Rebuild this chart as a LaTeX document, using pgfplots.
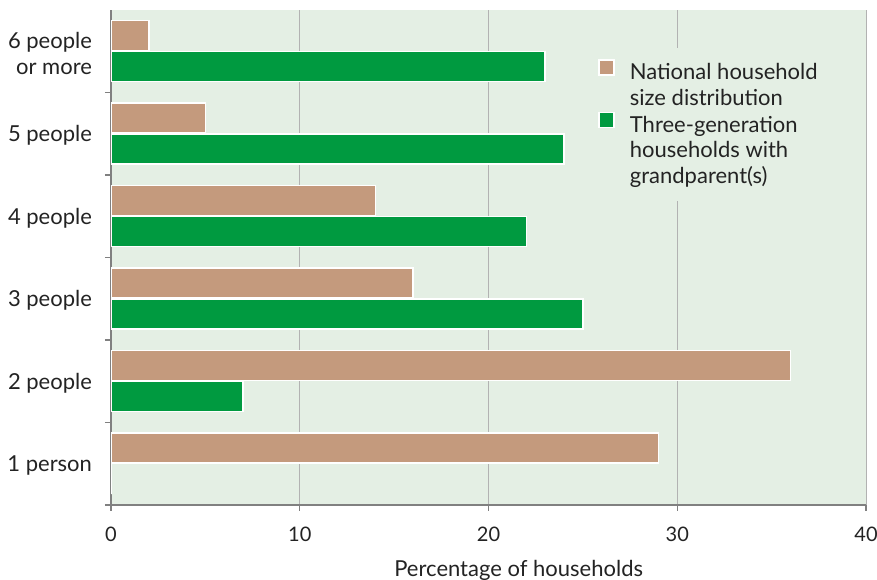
\documentclass[border=0pt]{standalone}
\usepackage{fontspec}
\setmainfont{Lato}
\usepackage{pgfplots}
\pgfplotsset{compat=1.18}
\definecolor{bg}{RGB}{228,239,228}
\definecolor{tan}{RGB}{196,154,125}
\definecolor{grn}{RGB}{0,154,64}
\definecolor{axgray}{RGB}{128,128,128}
\definecolor{gridgray}{RGB}{178,178,178}
\definecolor{txt}{RGB}{35,35,35}
\pgfplotsset{layers/mylayers/.define layer set={axis background,axis grid,main,axis ticks,axis lines,axis tick labels,axis descriptions,axis foreground}{}}
\begin{document}
\begin{tikzpicture}[font=\fontsize{22}{26}\selectfont, text=txt]
\begin{axis}[
  set layers=mylayers,
  scale only axis, width=755pt, height=495pt,
  xbar, bar width=30pt,
  xmin=0, xmax=40, ymin=-0.5, ymax=5.5,
  axis x line*=bottom, axis y line*=left,
  axis line style={-, draw=axgray, line width=1.5pt},
  axis background/.style={fill=bg},
  xtick={0,10,20,30,40},
  xmajorgrids, grid style={gridgray, line width=1pt},
  ytick={0,...,5},
  yticklabels={1 person,2 people,3 people,4 people,5 people,{6 people\\or more}},
  minor ytick={-0.5,0.5,...,4.5},
  tick align=outside,
  major tick length=6pt, minor tick length=6pt,
  every major y tick/.append style={draw=none},
  tick style={axgray, line width=1.2pt},
  yticklabel style={align=right, xshift=-9.5pt, yshift=-2pt},
  xticklabel style={yshift=-12pt, font=\fontsize{20}{24}\selectfont},
  /pgf/number format/assume math mode=true,
  xlabel={Percentage of households},
  xlabel style={at={(axis description cs:0.54,0)}, anchor=base, yshift=-71pt},
  legend image code/.code={\draw[#1] (0pt,-2pt) rectangle (15pt,13pt); \path[draw=none,fill=none] (0pt,0pt) -- (31pt,0pt);},
  legend cell align=left,
  legend style={at={(0.641,0.923)}, anchor=north west, fill=bg, draw=none,
    inner xsep=3pt, inner ysep=11pt, row sep=0pt, column sep=0pt,
    nodes={inner sep=0pt, text height=19.7pt, text depth=6pt}},
]
\addplot[fill=tan, draw=white, line width=1.5pt, bar shift=15.5pt]
  coordinates {(29,0) (36,1) (16,2) (14,3) (5,4) (2,5)};
\addlegendimage{empty legend}
\addplot[fill=grn, draw=white, line width=1.5pt, bar shift=-15.5pt]
  coordinates {(0,0) (7,1) (25,2) (22,3) (24,4) (23,5)};
\addlegendimage{empty legend}
\addlegendimage{empty legend}
\legend{National household, size distribution, Three-generation, households with, grandparent(s)}
\end{axis}
\pgfresetboundingbox
\path[use as bounding box] (-111pt,-75pt) rectangle (766pt,505pt);
\end{tikzpicture}
\end{document}
